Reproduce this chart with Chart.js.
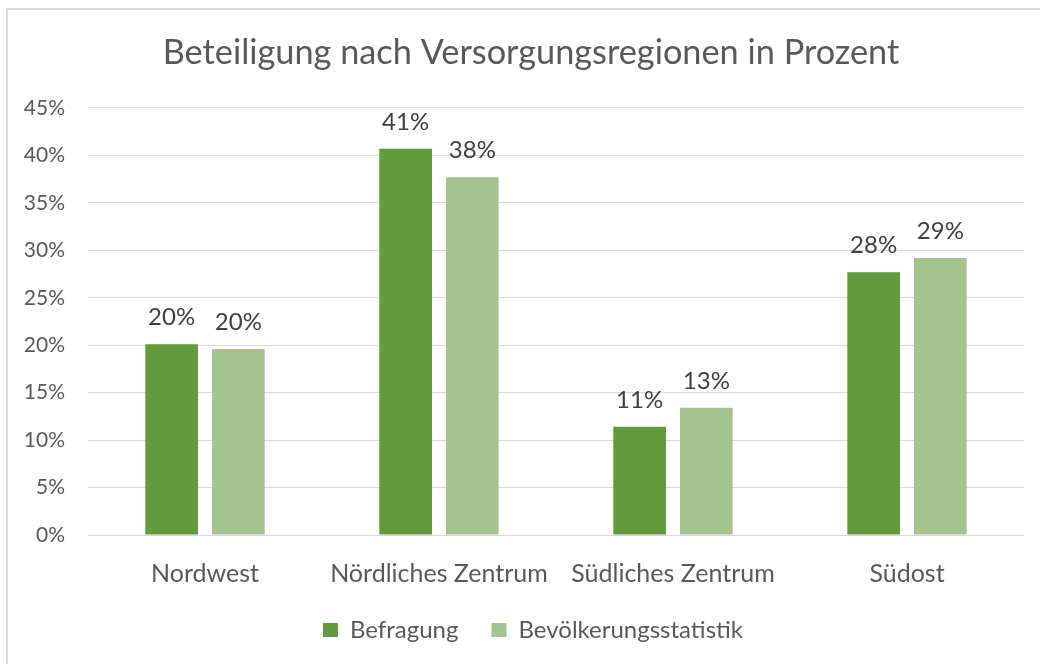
<!DOCTYPE html>
<html><head><meta charset="utf-8">
<script src="https://cdn.jsdelivr.net/npm/chart.js@4"></script>
<style>html,body{margin:0;padding:0;background:#fff;overflow:hidden}#wrap{width:1040px;height:664px;position:relative}</style>
</head><body><div id="wrap"><canvas id="c" width="1040" height="664"></canvas></div>
<script>
const chartTitle = 'Beteiligung nach Versorgungsregionen in Prozent';
const categories = ['Nordwest', 'Nördliches Zentrum', 'Südliches Zentrum', 'Südost'];
const seriesNames = ['Befragung', 'Bevölkerungsstatistik'];
const befragung = [20.1, 40.7, 11.4, 27.7];
const bevoelkerung = [19.6, 37.7, 13.4, 29.2];
const yTickValues = [0, 5, 10, 15, 20, 25, 30, 35, 40, 45];
const colors = ['#629A3E', '#A3C48F'];
const FONT = 'Lato';
const TEXT = '#595959';

const frame = {
  id: 'frame',
  beforeDraw(chart) {
    const c = chart.ctx;
    c.save();
    c.fillStyle = '#fff';
    c.fillRect(0, 0, chart.width, chart.height);
    c.strokeStyle = '#d9d9d9';
    c.lineWidth = 2;
    c.strokeRect(7, 9, 2000, 2000);
    c.restore();
  }
};

const placeBlocks = {
  id: 'placeBlocks',
  afterLayout(chart) {
    const L = chart.legend;
    if (L) { L.left += 21; L.right += 21; L.top = 585; L.bottom = 664; L.height = 79; }
    const T = chart.titleBlock;
    if (T) { T.left += 19; T.right += 19; }
  }
};

const valueLabels = {
  id: 'valueLabels',
  afterDatasetsDraw(chart) {
    const c = chart.ctx;
    c.save();
    c.font = '24px ' + FONT;
    c.fillStyle = '#404040';
    c.textAlign = 'center';
    c.textBaseline = 'alphabetic';
    chart.data.datasets.forEach((ds, i) => {
      chart.getDatasetMeta(i).data.forEach((el, j) => {
        c.fillText(Math.round(ds.data[j]) + '%', el.x, el.y - 19);
      });
    });
    c.restore();
  }
};

function draw() {
  new Chart(document.getElementById('c'), {
    type: 'bar',
    data: {
      labels: categories,
      datasets: [
        { label: seriesNames[0], data: befragung, backgroundColor: colors[0] },
        { label: seriesNames[1], data: bevoelkerung, backgroundColor: colors[1] }
      ]
    },
    options: {
      responsive: false,
      animation: false,
      devicePixelRatio: 1,
      categoryPercentage: 0.57,
      barPercentage: 0.79,
      layout: { padding: { left: 0, right: 16, top: 0, bottom: 0 } },
      plugins: {
        tooltip: { enabled: false },
        title: {
          display: true,
          text: chartTitle,
          color: TEXT,
          font: { family: FONT, size: 34.3, weight: 'normal' },
          padding: { top: 32, bottom: 34.8 }
        },
        legend: {
          position: 'bottom',
          maxHeight: 40,
          labels: {
            boxWidth: 15,
            boxHeight: 14,
            padding: 33,
            color: TEXT,
            font: { family: FONT, size: 24 }
          }
        }
      },
      scales: {
        y: {
          min: 0,
          max: 45,
          afterBuildTicks: s => { s.ticks = yTickValues.map(v => ({ value: v })); },
          ticks: {
            callback: v => v + '%',
            color: TEXT,
            font: { family: FONT, size: 21 },
            padding: 23
          },
          grid: { color: '#d9d9d9', lineWidth: 1, drawTicks: false },
          border: { display: false },
          afterFit: s => { s.width = 88; }
        },
        x: {
          grid: { display: false, drawTicks: false },
          border: { display: false },
          ticks: {
            color: TEXT,
            font: { family: FONT, size: 25 },
            padding: 24,
            maxRotation: 0,
            autoSkip: false
          },
          afterFit: s => { s.height = 89; }
        }
      }
    },
    plugins: [frame, placeBlocks, valueLabels]
  });
}
(document.fonts && document.fonts.load ? Promise.all([document.fonts.load('30px Lato'), document.fonts.load('18px Lato')]).catch(() => {}) : Promise.resolve()).then(draw);
</script>
</body></html>
